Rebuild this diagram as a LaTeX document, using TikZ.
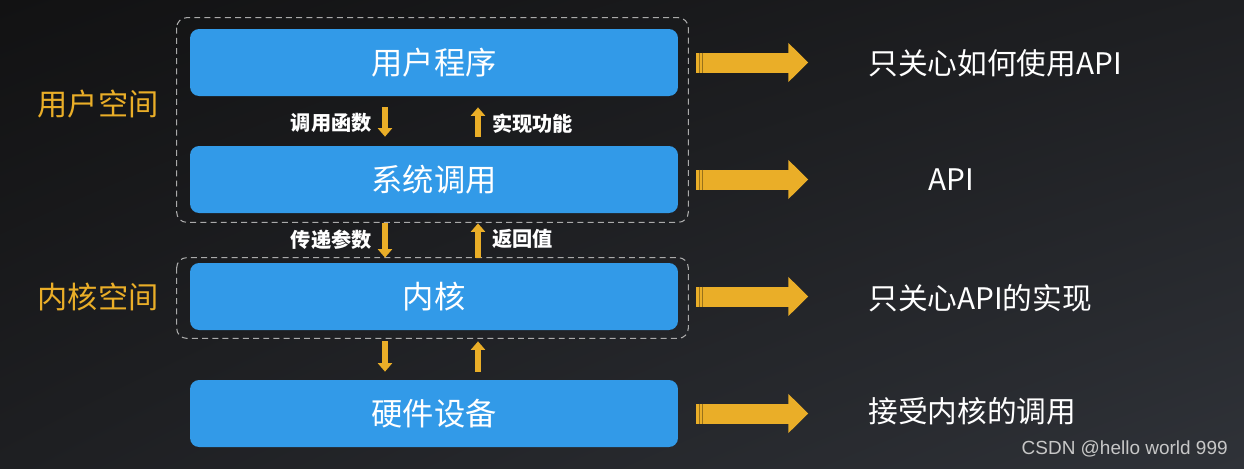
\documentclass[tikz,border=0pt]{standalone}
\usepackage{fontspec}
\setmainfont{Noto Sans CJK SC}
\newfontfamily\wmfont{Liberation Sans}
\usepackage{xcolor}
\usetikzlibrary{arrows.meta,positioning,calc,shadings}
\definecolor{boxblue}{RGB}{50,154,232}
\definecolor{tipgold}{RGB}{234,174,40}
\definecolor{bgdark}{RGB}{18,18,19}
\definecolor{bgmid}{RGB}{30,31,34}
\definecolor{bglight}{RGB}{47,50,56}
\definecolor{dashgray}{RGB}{170,170,170}

\begin{document}
\begin{tikzpicture}[
  x=0.02cm, y=-0.02cm,
  layer/.style={fill=boxblue, rounded corners=0.18cm, minimum width=9.76cm,
    minimum height=1.34cm, text=white, font=\fontsize{17.8}{19}\selectfont},
  space/.style={text=tipgold, font=\fontsize{17.2}{19}\selectfont},
  note/.style={text=white, font=\fontsize{16.9}{18}\selectfont, anchor=west, inner sep=0pt},
  lbl/.style={text=white, font=\bfseries\fontsize{11.5}{12}\selectfont, inner sep=0pt},
  zone/.style={draw=dashgray, dash pattern=on 3.4pt off 2.4pt,
    rounded corners=0.2cm, line width=0.6pt},
  bigarr/.style={tipgold, line width=0.4cm, -{Triangle[length=0.4cm,width=0.76cm]}},
  smarr/.style={tipgold, line width=0.11cm, -{Triangle[length=0.17cm,width=0.28cm]}}
]
% background
\shade[upper left=bgdark, upper right=bgmid, lower left=bgmid, lower right=bglight]
  (0,0) rectangle (1244,468);
\useasboundingbox (0,0) rectangle (1244,468);

% layers
\node[layer] (user) at (434,62.5) {用户程序};
\node[layer] (sys)  at (434,179.5) {系统调用};
\node[layer] (kern) at (434,296.5) {内核};
\node[layer] (hw)   at (434,413.5) {硬件设备};

% spaces
\draw[zone] ($(user.north west)+(-13,-11)$) rectangle ($(sys.south east)+(10,9)$);
\draw[zone] ($(kern.north west)+(-13,-5)$) rectangle ($(kern.south east)+(10,8)$);
\node[space] (userspace) at (98,104) {用户空间};
\node[space] (kernspace) at (98,297) {内核空间};

% calls between layers
\draw[smarr] ($(user.south)+(-49,11)$) -- ($(sys.north)+(-49,-9)$);
\draw[smarr] ($(sys.north)+(44,-9)$) -- ($(user.south)+(44,11)$);
\draw[smarr] ($(sys.south)+(-49,10)$) -- ($(kern.north)+(-49,-5)$);
\draw[smarr] ($(kern.north)+(44,-5)$) -- ($(sys.south)+(44,10)$);
\draw[smarr] ($(kern.south)+(-49,11)$) -- ($(hw.north)+(-49,-8)$);
\draw[smarr] ($(hw.north)+(44,-8)$) -- ($(kern.south)+(44,11)$);
\node[lbl, anchor=east] (callfn) at ($(user.south)+(-62,27)$) {调用函数};
\node[lbl, anchor=west] (impl)   at ($(user.south)+(58,27)$) {实现功能};
\node[lbl, anchor=east] (args)   at ($(sys.south)+(-62,26)$) {传递参数};
\node[lbl, anchor=west] (ret)    at ($(sys.south)+(58,26)$) {返回值};

% notes on the right
\node[note] (n1) at (868,63) {只关心如何使用API};
\node[note] (n2) at (928,180) {API};
\node[note] (n3) at (868,298) {只关心API的实现};
\node[note] (n4) at (868,411) {接受内核的调用};
\foreach \b in {user,sys,kern,hw} {
  \draw[bigarr] ($(\b.east)+(18,0)$) -- ($(\b.east)+(130,0)$);
  \foreach \dx in {3,6}
    \draw[tipgold!65!black, line width=0.4pt] ($(\b.east)+(18+\dx,-10)$) -- ++(0,20);
}

\node[anchor=east, inner sep=0pt, text=black!22, font=\wmfont\fontsize{10.8}{12}\selectfont]
  (mark) at (1228,449) {CSDN @hello world 999};
\end{tikzpicture}
\end{document}
